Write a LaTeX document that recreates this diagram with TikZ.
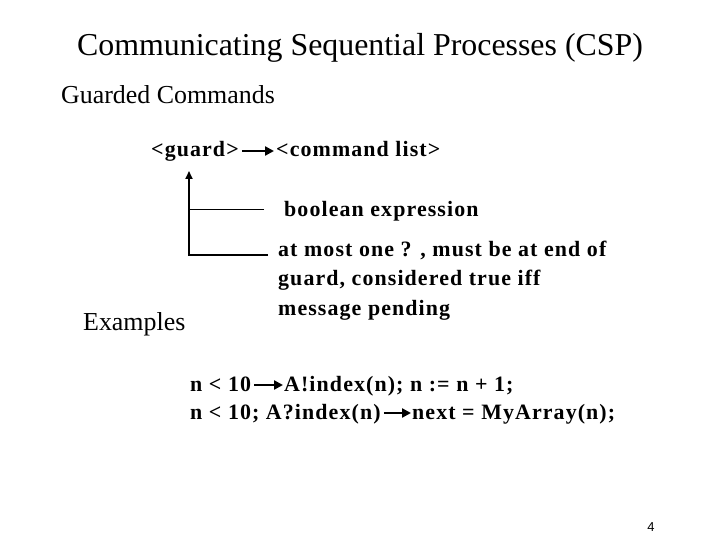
\documentclass[tikz,border=0pt]{standalone}
\usepackage{fontspec}
\setmainfont{Liberation Serif}
\newfontfamily\pagefont{Liberation Sans}
\newfontfamily\wideserif[LetterSpace=5]{Liberation Serif}
\usetikzlibrary{arrows.meta, positioning, calc}

\begin{document}
\begin{tikzpicture}[
  x=1bp, y=-1bp,
  title/.style={anchor=base, inner sep=0pt, font=\fontsize{32}{38}\selectfont},
  head/.style={anchor=base west, inner sep=0pt, font=\fontsize{26}{30}\selectfont},
  code/.style={anchor=base west, inner sep=0pt, font=\wideserif\fontsize{22}{29}\selectfont\bfseries},
  link/.style={line width=3pt, -{Triangle[length=9pt,width=9pt]}},
  tree/.style={line width=1.8pt},
]
\useasboundingbox (0,0) rectangle (720,540);

\node[title] (ttl) at (360,56) {Communicating Sequential Processes (CSP)};
\node[head] (gc) at (61,104) {Guarded Commands};

\node[code] (guard) at (151,157) {<guard>};
\node[code] (cmd) at (276,157) {<command list>};
\draw[link] ($(guard.base east)+(3,-6)$) -- ($(cmd.base west)+(-2,-6)$);

\node[code] (bool) at (284,217) {boolean expression};
\node[code] (most1) at (278,257) {at most one ? , must be at end of};
\node[code] (most2) at (278,286) {guard, considered true iff};
\node[code] (most3) at (278,315) {message pending};

\coordinate (stem) at (189,171);
\coordinate (boolend) at (264,209);
\coordinate (mostend) at (268,255);
\draw[thin] (boolend) -- (boolend -| stem);
\draw[tree, -{Triangle[length=8pt,width=7pt]}] (mostend) -| (stem);

\node[head] (ex) at (83,330) {Examples};

\node[code] (c1) at (190,391) {n < 10};
\node[code] (a1) at (284,391) {A!index(n); n := n + 1;};
\draw[link] ($(c1.base east)+(3,-6)$) -- ($(a1.base west)+(-1,-6)$);

\node[code] (c2) at (190,419) {n < 10; A?index(n)};
\node[code] (a2) at (412,419) {next = MyArray(n);};
\draw[link] ($(c2.base east)+(3,-6)$) -- ($(a2.base west)+(-1,-6)$);

\node[anchor=base, inner sep=0pt, font=\pagefont\fontsize{13}{15}\selectfont] (pg) at (651,531) {4};
\end{tikzpicture}
\end{document}
